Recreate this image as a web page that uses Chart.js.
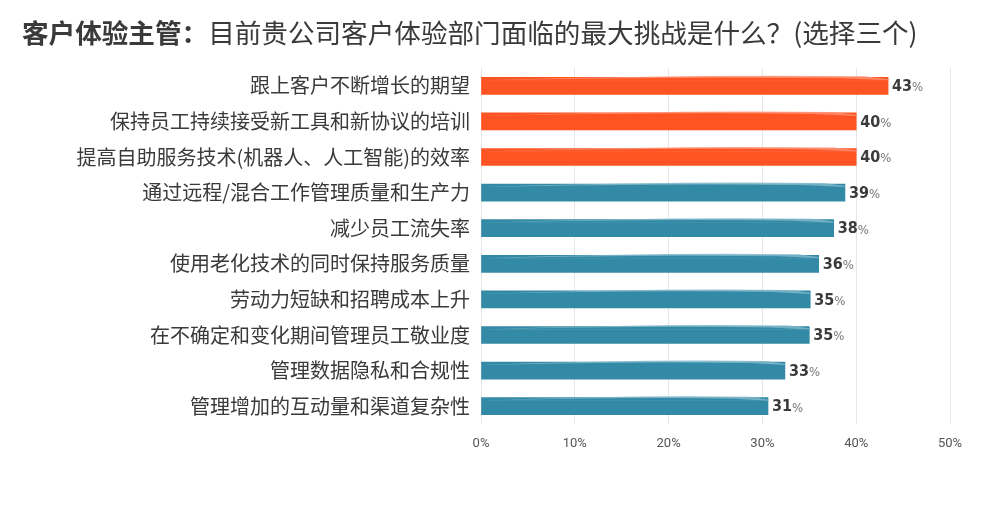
<!DOCTYPE html>
<html>
<head>
<meta charset="utf-8">
<script src="https://cdn.jsdelivr.net/npm/chart.js@4/dist/chart.umd.min.js"></script>
<style>
html,body{margin:0;padding:0;background:#fff;}
#wrap{width:1000px;height:520px;position:relative;}
</style>
</head>
<body>
<div id="wrap"><canvas id="c" width="1000" height="520"></canvas></div>
<script>
const titleBold = "客户体验主管：";
const titleRest = "目前贵公司客户体验部门面临的最大挑战是什么？(选择三个)";
const categories = [
  "跟上客户不断增长的期望",
  "保持员工持续接受新工具和新协议的培训",
  "提高自助服务技术(机器人、人工智能)的效率",
  "通过远程/混合工作管理质量和生产力",
  "减少员工流失率",
  "使用老化技术的同时保持服务质量",
  "劳动力短缺和招聘成本上升",
  "在不确定和变化期间管理员工敬业度",
  "管理数据隐私和合规性",
  "管理增加的互动量和渠道复杂性"
];
const values = [43.4, 40, 40, 38.8, 37.6, 36, 35.1, 35, 32.4, 30.6];
const valueLabels = ["43", "40", "40", "39", "38", "36", "35", "35", "33", "31"];
const highlight = [true, true, true, false, false, false, false, false, false, false];
const xTicks = [0, 10, 20, 30, 40, 50];

const ORANGE = "#FE5323", ORANGE_LIGHT = "#FF8F70";
const TEAL = "#338AA6", TEAL_LIGHT = "#7FB6C9";

const titlePlugin = {
  id: "titlePlugin",
  afterDraw(chart) {
    const ctx = chart.ctx;
    ctx.save();
    ctx.textBaseline = "middle";
    ctx.textAlign = "left";
    ctx.fillStyle = "#3a3a3a";
    ctx.font = "bold 26.6px 'Noto Sans CJK SC'";
    ctx.fillText(titleBold, 22, 33);
    const w = ctx.measureText(titleBold).width;
    ctx.font = "26.6px 'Noto Sans CJK SC'";
    ctx.fillText(titleRest, 22 + w, 33);
    ctx.restore();
  }
};

const brushPlugin = {
  id: "brushPlugin",
  afterDatasetsDraw(chart) {
    const ctx = chart.ctx;
    const meta = chart.getDatasetMeta(0);
    ctx.save();
    meta.data.forEach((bar, i) => {
      const p = bar.getProps(["x", "y", "base", "height"], true);
      const top = p.y - p.height / 2;
      const x0 = p.base, x1 = p.x;
      const len = x1 - x0;
      ctx.fillStyle = highlight[i] ? ORANGE_LIGHT : TEAL_LIGHT;
      ctx.globalAlpha = 0.85;
      ctx.beginPath();
      ctx.moveTo(x0, top + 3);
      ctx.quadraticCurveTo(x0 + len * 0.5, top - 3, x1 - len * 0.06, top - 1);
      ctx.lineTo(x1 + 1, top + 2);
      ctx.lineTo(x1, top + 3);
      ctx.closePath();
      ctx.fill();
      ctx.globalAlpha = 1;
      ctx.fillStyle = highlight[i] ? ORANGE : TEAL;
      ctx.beginPath();
      ctx.moveTo(x0, top + 3);
      ctx.quadraticCurveTo(x0 + len * 0.5, top - 1, x1 - len * 0.12, top + 1);
      ctx.lineTo(x1, top + 3);
      ctx.closePath();
      ctx.fill();
    });
    ctx.restore();
  },
  afterDraw(chart) {
    const ctx = chart.ctx;
    const meta = chart.getDatasetMeta(0);
    ctx.save();
    ctx.textBaseline = "middle";
    ctx.textAlign = "left";
    meta.data.forEach((bar, i) => {
      const x = bar.x + 4, y = bar.y + 1;
      ctx.font = "bold 16px 'DejaVu Sans Condensed'";
      ctx.fillStyle = "#3b3b3b";
      ctx.fillText(valueLabels[i], x, y);
      const w = ctx.measureText(valueLabels[i]).width;
      ctx.font = "13px 'DejaVu Sans Condensed'";
      ctx.fillStyle = "#777";
      ctx.fillText("%", x + w, y + 1);
    });
    ctx.restore();
  }
};

new Chart(document.getElementById("c"), {
  type: "bar",
  data: {
    labels: categories,
    datasets: [{
      data: values,
      backgroundColor: highlight.map(h => h ? ORANGE : TEAL),
      borderWidth: 0,
      barThickness: 17
    }]
  },
  options: {
    indexAxis: "y",
    responsive: false,
    animation: false,
    events: [],
    layout: { padding: { top: 68, right: 50, bottom: 66, left: 0 } },
    plugins: { legend: { display: false }, tooltip: { enabled: false }, title: { display: false } },
    scales: {
      x: {
        min: 0, max: 50,
        afterBuildTicks(s) { s.ticks = xTicks.map(v => ({ value: v })); },
        afterFit(s) { s.height = 30; },
        ticks: {
          callback: v => v + "%",
          font: { family: "Roboto", size: 13 },
          color: "#555",
          padding: 12,
          maxRotation: 0
        },
        grid: { color: "#e6e6e6", drawTicks: false, lineWidth: 1 },
        border: { display: false }
      },
      y: {
        afterFit(s) { s.width = 481; },
        ticks: {
          font: { family: "Noto Sans CJK SC", size: 20 },
          color: "#3a3a3a",
          padding: 11
        },
        grid: { display: false, drawTicks: false },
        border: { display: false }
      }
    }
  },
  plugins: [titlePlugin, brushPlugin]
});
</script>
</body>
</html>
